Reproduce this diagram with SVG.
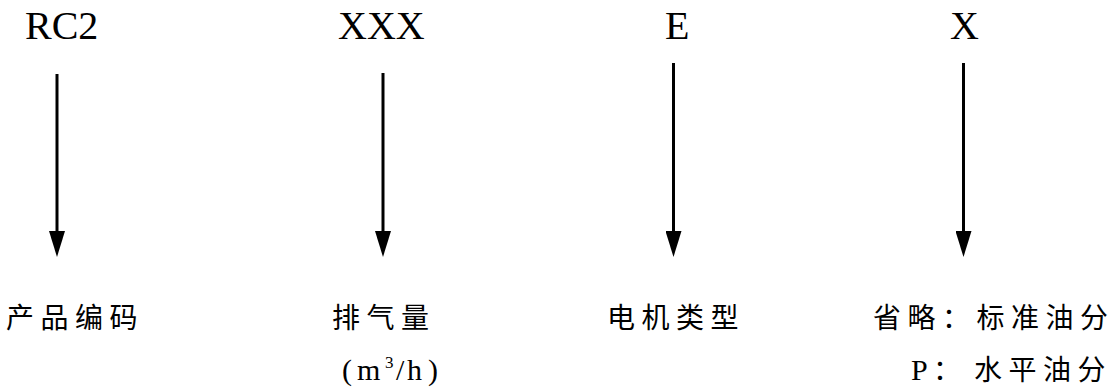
<svg xmlns="http://www.w3.org/2000/svg" width="1114" height="387" viewBox="0 0 1114 387">
<style>
.code{font-family:"Liberation Serif","Times New Roman",serif;font-size:40px;fill:#000}
.cjk{font-family:"Noto Sans CJK SC","Noto Sans CJK JP",sans-serif;font-size:28px;letter-spacing:6.5px;fill:#000}
.ser{font-family:"Liberation Serif","Times New Roman",serif;font-size:30px;fill:#000}
.arr{stroke:#000;stroke-width:3;fill:none}
</style>
<defs>
<marker id="ah" markerUnits="userSpaceOnUse" markerWidth="26" markerHeight="16" refX="14" refY="8" orient="auto" viewBox="0 0 26 16">
<path d="M0,0 L26,8 L0,16 Z" fill="#000"/>
</marker>
</defs>
<rect width="1114" height="387" fill="#fff"/>
<g id="connectors">
<line class="arr" x1="57" y1="74" x2="57" y2="245" marker-end="url(#ah)"/>
<line class="arr" x1="383" y1="73" x2="383" y2="245" marker-end="url(#ah)"/>
<line class="arr" x1="673.5" y1="63" x2="673.5" y2="245" marker-end="url(#ah)"/>
<line class="arr" x1="963.5" y1="63" x2="963.5" y2="245" marker-end="url(#ah)"/>
</g>
<g id="node-rc2">
<text class="code" x="25" y="39">RC2</text>
<text class="cjk" x="6" y="328">产品编码</text>
</g>
<g id="node-xxx">
<text class="code" x="338" y="39">XXX</text>
<text class="cjk" x="332" y="328">排气量</text>
<text class="ser" y="380"><tspan x="342">(</tspan><tspan x="357">m</tspan><tspan x="385" y="368" font-size="17">3</tspan><tspan x="396" y="380">/</tspan><tspan x="407">h</tspan><tspan x="428">)</tspan></text>
</g>
<g id="node-e">
<text class="code" x="665" y="39">E</text>
<text class="cjk" x="607" y="328">电机类型</text>
</g>
<g id="node-x">
<text class="code" x="950" y="39">X</text>
<text class="cjk" x="873" y="328">省略：标准油分</text>
<text class="ser" x="911" y="380">P</text>
<text class="cjk" x="933" y="380">：</text>
<text class="cjk" x="974" y="380">水平油分</text>
</g>
</svg>
